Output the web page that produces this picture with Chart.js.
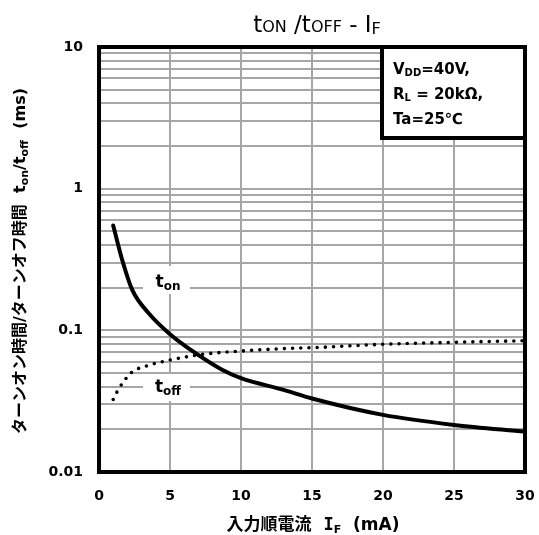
<!DOCTYPE html>
<html>
<head>
<meta charset="utf-8">
<script src="https://cdn.jsdelivr.net/npm/chart.js@4"></script>
<style>
html,body{margin:0;padding:0;background:#fff;}
#wrap{width:539px;height:535px;position:relative;}
</style>
</head>
<body>
<div id="wrap"><canvas id="c" width="539" height="535"></canvas></div>
<script>
// ---- data ----
const tonX = [1, 1.65, 2.35, 3.5, 5, 6.8, 8.7, 10, 13, 15, 20, 25, 30];
const tonY = [0.55, 0.31, 0.192, 0.132, 0.094, 0.069, 0.0525, 0.046, 0.038, 0.033, 0.0253, 0.0215, 0.0193];
const toffX = [1, 1.25, 1.6, 2.3, 3.4, 5, 7.3, 10, 13.4, 15, 20, 25, 30];
const toffY = [0.0325, 0.0365, 0.0416, 0.0505, 0.0563, 0.0617, 0.0677, 0.0714, 0.0746, 0.0754, 0.0797, 0.0823, 0.0845];
const xTickValues = [0, 5, 10, 15, 20, 25, 30];
const yMajorTicks = [0.01, 0.1, 1, 10];
const yTickLabels = ['0.01', '0.1', '1', '10'];
const yGridValues = [0.01,0.02,0.03,0.04,0.05,0.06,0.07,0.08,0.09,
                     0.1,0.2,0.3,0.4,0.5,0.6,0.7,0.8,0.9,
                     1,2,3,4,5,6,7,8,9,10];
const chartTitle = [['t','big'],['ON','small'],[' /','big'],['t','big'],['OFF','small'],[' - I','big'],['F','sub']];
const xTitle = ['入力順電流  ', 'I', 'F', '  (mA)'];
const yTitle = ['ターンオン時間/ターンオフ時間  t', 'on', '/t', 'off', '  (ms)'];
const conditions = [['V','DD','=40V,'],['R','L',' = 20kΩ,'],['Ta=25℃','','']];
const seriesLabels = [['t','on'],['t','off']];

const toPts = (xs, ys) => xs.map((x, i) => ({x: x, y: ys[i]}));

function drawRuns(ctx, runs, x, y, align) {
  let w = 0;
  runs.forEach(r => { ctx.font = r.f; w += ctx.measureText(r.t).width; });
  let cx = align === 'center' ? x - w / 2 : x;
  ctx.textAlign = 'left';
  ctx.textBaseline = 'alphabetic';
  runs.forEach(r => {
    ctx.font = r.f;
    ctx.fillText(r.t, cx, y + (r.dy || 0));
    cx += ctx.measureText(r.t).width;
  });
  return w;
}

const BOLD = "bold 15px 'DejaVu Sans', 'Noto Sans CJK JP', sans-serif";
const BOLDSUB = "bold 10px 'DejaVu Sans', 'Noto Sans CJK JP', sans-serif";
const AX = "bold 16px 'DejaVu Sans', 'Noto Sans CJK JP', sans-serif";
const AXSUB = "bold 11px 'DejaVu Sans', 'Noto Sans CJK JP', sans-serif";
const XT = "bold 17px 'DejaVu Sans', 'Noto Sans CJK JP', sans-serif";
const XTI = "bold 17px 'DejaVu Sans Mono', 'DejaVu Sans', sans-serif";
const XTSUB = "bold 11px 'DejaVu Sans', sans-serif";

const annot = {
  id: 'annot',
  beforeDatasetsDraw(chart) {
    const ctx = chart.ctx;
    const xs = chart.scales.x, ys = chart.scales.y;
    ctx.save();
    const lab = [
      {s: seriesLabels[0], xv: 5, yv: 0.2, box: [143, 266, 47, 28], dy: -1},
      {s: seriesLabels[1], xv: 5, yv: 0.04, box: [143, 374, 47, 27], dy: 5}
    ];
    lab.forEach(l => {
      ctx.fillStyle = '#fff';
      ctx.fillRect(l.box[0], l.box[1], l.box[2], l.box[3]);
      ctx.fillStyle = '#000';
      const px = xs.getPixelForValue(l.xv);
      const py = ys.getPixelForValue(l.yv);
      drawRuns(ctx, [
        {t: l.s[0], f: "bold 17px 'DejaVu Sans', sans-serif"},
        {t: l.s[1], f: "bold 12px 'DejaVu Sans', sans-serif", dy: 3}
      ], px - 2, py + l.dy, 'center');
    });
    ctx.restore();
  },
  afterDatasetsDraw(chart) {
    const ctx = chart.ctx;
    const a = chart.chartArea;
    ctx.save();
    ctx.strokeStyle = '#000';
    ctx.lineWidth = 4;
    ctx.strokeRect(a.left, a.top, a.right - a.left, a.bottom - a.top);
    // conditions box
    const bx = 382, by = a.top, bw = a.right - 382, bh = 91;
    ctx.fillStyle = '#fff';
    ctx.fillRect(bx, by, bw, bh);
    ctx.strokeRect(bx, by, bw, bh);
    ctx.fillStyle = '#000';
    conditions.forEach((c, i) => {
      drawRuns(ctx, [
        {t: c[0], f: BOLD},
        {t: c[1], f: BOLDSUB, dy: 2},
        {t: c[2], f: BOLD}
      ], 393, 74 + i * 25, 'left');
    });
    // title
    const fBig = "23px 'DejaVu Sans', sans-serif";
    const fSmall = "16px 'DejaVu Sans', sans-serif";
    drawRuns(ctx, chartTitle.map(r => ({
      t: r[0], f: r[1] === 'big' ? fBig : fSmall, dy: r[1] === 'sub' ? 2 : 0
    })), 317, 32, 'center');
    // x title
    drawRuns(ctx, [
      {t: xTitle[0], f: XT},
      {t: xTitle[1], f: XTI},
      {t: xTitle[2], f: XTSUB, dy: 3},
      {t: xTitle[3], f: XT}
    ], 313, 530, 'center');
    // y title (rotated)
    ctx.translate(25, 261);
    ctx.rotate(-Math.PI / 2);
    drawRuns(ctx, [
      {t: yTitle[0], f: AX},
      {t: yTitle[1], f: AXSUB, dy: 3},
      {t: yTitle[2], f: AX},
      {t: yTitle[3], f: AXSUB, dy: 3},
      {t: yTitle[4], f: AX}
    ], 0, 0, 'center');
    ctx.restore();
  }
};

new Chart(document.getElementById('c'), {
  type: 'scatter',
  data: {
    datasets: [
      {
        label: 'ton',
        data: toPts(tonX, tonY),
        showLine: true,
        borderColor: '#000',
        borderWidth: 4,
        pointRadius: 0,
        cubicInterpolationMode: 'monotone',
        borderCapStyle: 'round'
      },
      {
        label: 'toff',
        data: toPts(toffX, toffY),
        showLine: true,
        borderColor: '#000',
        borderWidth: 3.6,
        borderDash: [0, 8.2],
        borderCapStyle: 'round',
        pointRadius: 0,
        cubicInterpolationMode: 'monotone'
      }
    ]
  },
  options: {
    responsive: false,
    animation: false,
    layout: {padding: {top: 47, right: 14, left: 0, bottom: 0}},
    plugins: {legend: {display: false}, tooltip: {enabled: false}, title: {display: false}},
    scales: {
      x: {
        type: 'linear',
        min: 0, max: 30,
        afterBuildTicks: s => { s.ticks = xTickValues.map(v => ({value: v})); },
        afterFit: s => { s.height = 63; s.paddingLeft = 0; s.paddingRight = 0; },
        grid: {color: '#a6a6a6', lineWidth: 2, drawTicks: false},
        border: {display: false},
        ticks: {
          padding: 16,
          color: '#000',
          autoSkip: false,
          maxRotation: 0,
          font: {family: "'DejaVu Sans', sans-serif", size: 14, weight: 'bold'}
        }
      },
      y: {
        type: 'logarithmic',
        min: 0.01, max: 10,
        afterBuildTicks: s => { s.ticks = yGridValues.map(v => ({value: v})); },
        afterFit: s => { s.width = 99; s.paddingTop = 0; s.paddingBottom = 0; },
        grid: {color: '#a6a6a6', lineWidth: 2, drawTicks: false},
        border: {display: false},
        ticks: {
          padding: 16,
          color: '#000',
          autoSkip: false,
          font: {family: "'DejaVu Sans', sans-serif", size: 14, weight: 'bold'},
          callback: (v) => {
            const i = yMajorTicks.findIndex(m => Math.abs(m - v) < m * 1e-6);
            return i >= 0 ? yTickLabels[i] : '';
          }
        }
      }
    }
  },
  plugins: [annot]
});
</script>
</body>
</html>
